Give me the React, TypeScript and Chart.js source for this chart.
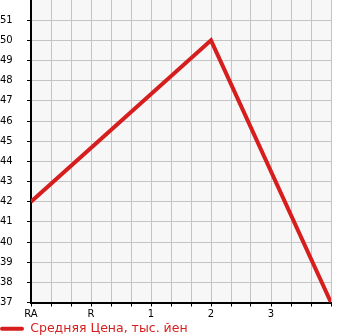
import React, { useEffect, useRef } from "react";
import { Chart, registerables } from "chart.js";

Chart.register(...registerables);

const categories = ["RA", "R", "1", "2", "3", ""];
const prices: (number | null)[] = [42, null, null, 50, null, 37];
const yTicks = [37, 38, 39, 40, 41, 42, 43, 44, 45, 46, 47, 48, 49, 50, 51];
const seriesLabel = "Средняя Цена, тыс. йен";

const STEP = 3;
const RED = "#d71e1e";

export default function App() {
  const ref = useRef<HTMLCanvasElement>(null);
  useEffect(() => {
    document.body.style.margin = "0";
    document.body.style.overflow = "hidden";
    const ctx = ref.current!;
    const points = prices.map((v, i) => ({ x: i * STEP, y: v }));
    const bgPlugin = {
      id: "bg",
      beforeDraw(chart: any) {
        const { ctx: c, chartArea: a } = chart;
        c.save();
        c.fillStyle = "#f7f7f7";
        c.fillRect(a.left, a.top, a.right - a.left, a.bottom - a.top);
        c.restore();
      },
    };
    const chart = new Chart(ctx, {
      type: "line",
      data: {
        datasets: [
          {
            label: seriesLabel,
            data: points as any,
            borderColor: RED,
            backgroundColor: RED,
            borderWidth: 4,
            pointRadius: 0,
            spanGaps: true,
            tension: 0,
          },
        ],
      },
      options: {
        animation: false,
        responsive: false,
        maintainAspectRatio: false,
        layout: { padding: { top: 0, right: 14, left: 0, bottom: 0 } },
        plugins: {
          tooltip: { enabled: false },
          legend: {
            position: "bottom",
            align: "start",
            labels: {
              boxWidth: 24,
              boxHeight: 4,
              padding: 0,
              useBorderRadius: true,
              borderRadius: 2,
              color: RED,
              font: { family: "DejaVu Sans", size: 12.5 },
              generateLabels: () => [
                {
                  text: seriesLabel,
                  fillStyle: RED,
                  strokeStyle: RED,
                  lineWidth: 0,
                  fontColor: RED,
                  datasetIndex: 0,
                  hidden: false,
                  borderRadius: 2,
                },
              ],
            },
          },
        },
        scales: {
          x: {
            type: "linear",
            min: 0,
            max: (categories.length - 1) * STEP,
            afterBuildTicks(scale: any) {
              const t = [];
              for (let i = 0; i <= (categories.length - 1) * STEP; i++) t.push({ value: i });
              scale.ticks = t;
            },
            afterFit(scale: any) {
              scale.height = 20;
              scale.paddingLeft = 0;
              scale.paddingRight = 0;
            },
            ticks: {
              autoSkip: false,
              maxRotation: 0,
              padding: 2,
              color: "#000",
              font: { family: "DejaVu Sans", size: 10 },
              callback: (v: any) => (v % STEP === 0 ? categories[v / STEP] : ""),
            },
            grid: {
              color: "#c4c4c4",
              lineWidth: 1,
              drawTicks: true,
              tickLength: 4,
              tickColor: "#000",
            },
            border: { display: true, color: "#000", width: 2 },
          },
          y: {
            min: 37,
            max: 52,
            afterBuildTicks(scale: any) {
              scale.ticks = yTicks.map((v) => ({ value: v }));
            },
            afterFit(scale: any) {
              scale.width = 31;
              scale.paddingTop = 0;
              scale.paddingBottom = 0;
            },
            ticks: {
              autoSkip: false,
              padding: 2,
              crossAlign: "far",
              color: "#000",
              font: { family: "DejaVu Sans", size: 10 },
              callback: (v: any) => String(v),
            },
            grid: {
              color: "#c4c4c4",
              lineWidth: 1,
              drawTicks: true,
              tickLength: 4,
              tickColor: "#000",
            },
            border: { display: true, color: "#000", width: 2 },
          },
        },
      },
      plugins: [bgPlugin],
    });
    return () => chart.destroy();
  }, []);
  return (
    <div style={{ width: 345, height: 335, overflow: "hidden" }}>
      <canvas ref={ref} width={345} height={345} style={{ display: "block" }} />
    </div>
  );
}
